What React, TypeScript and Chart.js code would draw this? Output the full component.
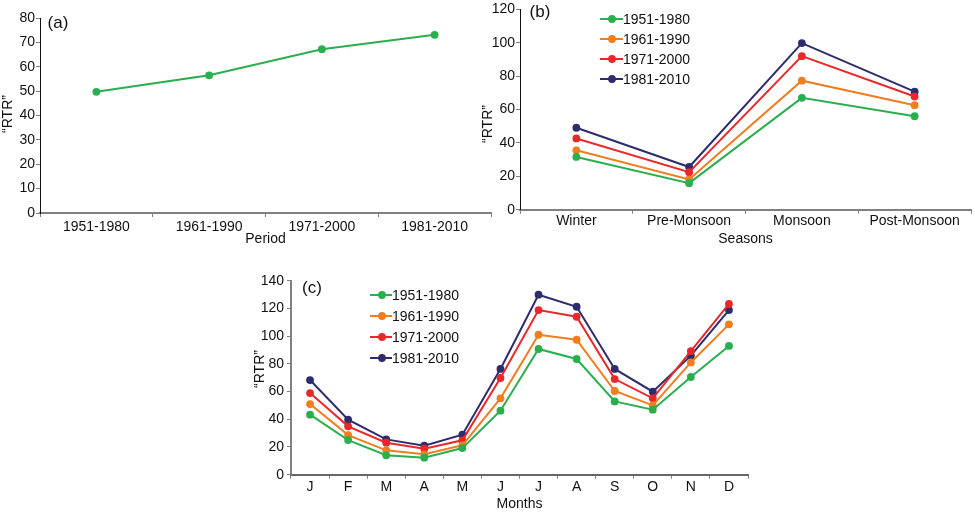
import React, { useEffect, useRef } from "react";
import { Chart, registerables } from "chart.js";

Chart.register(...registerables);
Chart.defaults.font.family = "'Liberation Sans', Arial, sans-serif";

// ---------- data ----------
const periods = ["1951-1980", "1961-1990", "1971-2000", "1981-2010"];
const rtrByPeriod = [49.7, 56.5, 67.2, 73.1];

const seasons = ["Winter", "Pre-Monsoon", "Monsoon", "Post-Monsoon"];
const season1951 = [31.6, 15.9, 67.0, 56.0];
const season1961 = [35.6, 18.1, 77.3, 62.6];
const season1971 = [42.7, 22.5, 92.0, 67.8];
const season1981 = [49.1, 25.6, 99.8, 70.7];

const months = ["J", "F", "M", "A", "M", "J", "J", "A", "S", "O", "N", "D"];
const month1951 = [43.3, 25.0, 14.0, 12.3, 19.2, 46.2, 90.7, 83.5, 52.9, 46.9, 70.5, 92.9];
const month1961 = [51.0, 28.6, 17.6, 14.7, 21.2, 55.1, 101.0, 97.4, 60.4, 50.0, 81.0, 108.5];
const month1971 = [58.9, 34.9, 23.1, 18.8, 24.8, 69.8, 118.8, 114.0, 69.0, 55.1, 89.2, 123.2];
const month1981 = [68.3, 39.7, 25.5, 20.9, 28.9, 76.3, 129.9, 121.2, 76.3, 59.9, 85.9, 118.8];

const COLORS = ["#2aae4e", "#f07d1f", "#e8282b", "#2d2c6c"];
const FONT = "'Liberation Sans', Arial, sans-serif";

type Series = { label: string; data: number[]; color: string };

type PanelProps = {
  left: number;
  top: number;
  width: number;
  height: number;
  labels: string[];
  series: Series[];
  yMax: number;
  yStep: number;
  area: { left: number; top: number; right: number; bottom: number };
  xTitle: string;
  panelLabel: string;
  labelPos: [number, number];
  yTitlePos: [number, number];
  legend?: { x: number; y: number; gap: number; lineLen: number; markerX: number; textX: number };
  xLabelPad: number;
  yLabelPad: number;
  yAxisColor: string;
  yAxisWidth: number;
  xAxisColor: string;
  xAxisWidth: number;
};

function Panel(p: PanelProps) {
  const ref = useRef<HTMLCanvasElement | null>(null);
  useEffect(() => {
    if (!ref.current) return;
    const deco = {
      id: "deco",
      afterDraw(chart: any) {
        const ctx = chart.ctx as CanvasRenderingContext2D;
        ctx.save();
        // panel label
        ctx.fillStyle = "#111";
        ctx.font = `17px ${FONT}`;
        ctx.textAlign = "center";
        ctx.textBaseline = "middle";
        ctx.fillText(p.panelLabel, p.labelPos[0], p.labelPos[1]);
        // y title
        ctx.save();
        ctx.translate(p.yTitlePos[0], p.yTitlePos[1]);
        ctx.rotate(-Math.PI / 2);
        ctx.font = `14px ${FONT}`;
        ctx.fillText("\u201CRTR\u201D", 0, 0);
        ctx.restore();
        // legend
        if (p.legend) {
          const lg = p.legend;
          chart.data.datasets.forEach((ds: any, i: number) => {
            const y = lg.y + i * lg.gap;
            ctx.strokeStyle = ds.borderColor;
            ctx.lineWidth = 2;
            ctx.beginPath();
            ctx.moveTo(lg.x, y);
            ctx.lineTo(lg.x + lg.lineLen, y);
            ctx.stroke();
            ctx.fillStyle = ds.borderColor;
            ctx.beginPath();
            ctx.arc(lg.markerX, y, 3.9, 0, Math.PI * 2);
            ctx.fill();
            ctx.fillStyle = "#111";
            ctx.font = `14px ${FONT}`;
            ctx.textAlign = "left";
            ctx.textBaseline = "middle";
            ctx.fillText(ds.label, lg.textX, y + 1);
          });
        }
        ctx.restore();
      },
    };
    const chart = new Chart(ref.current, {
      type: "line",
      data: {
        labels: p.labels,
        datasets: p.series.map((s) => ({
          label: s.label,
          data: s.data,
          borderColor: s.color,
          backgroundColor: s.color,
          pointBackgroundColor: s.color,
          pointBorderColor: s.color,
          pointRadius: 3.9,
          pointBorderWidth: 0,
          borderWidth: 2,
          tension: 0,
          fill: false,
        })),
      },
      options: {
        animation: false,
        responsive: false,
        maintainAspectRatio: false,
        devicePixelRatio: 1,
        layout: {
          padding: { left: 0, top: p.area.top, right: p.width - p.area.right, bottom: 0 },
        },
        plugins: {
          legend: { display: false },
          tooltip: { enabled: false },
        },
        scales: {
          x: {
            type: "category",
            offset: true,
            grid: {
              display: true,
              drawOnChartArea: false,
              drawTicks: true,
              tickLength: 4,
              offset: true,
              color: "#808080",
              lineWidth: 1,
            },
            border: { display: true, color: p.xAxisColor, width: p.xAxisWidth },
            ticks: {
              color: "#111",
              font: { size: 14 },
              padding: p.xLabelPad,
              maxRotation: 0,
              autoSkip: false,
            },
            title: {
              display: true,
              text: p.xTitle,
              color: "#111",
              font: { size: 14 },
              padding: { top: 0, bottom: 2.5 },
            },
            afterFit: (s: any) => {
              s.height = p.height - p.area.bottom;
            },
          },
          y: {
            min: 0,
            max: p.yMax,
            ticks: { stepSize: p.yStep, color: "#111", font: { size: 14 }, padding: p.yLabelPad },
            grid: {
              display: true,
              drawOnChartArea: false,
              drawTicks: true,
              tickLength: 4,
              color: "#808080",
            },
            border: { display: true, color: p.yAxisColor, width: p.yAxisWidth },
            afterFit: (s: any) => {
              s.width = p.area.left;
            },
          },
        },
      } as any,
      plugins: [deco],
    });
    return () => chart.destroy();
  }, []);
  return (
    <canvas
      ref={ref}
      width={p.width}
      height={p.height}
      style={{ position: "absolute", left: p.left, top: p.top, width: p.width, height: p.height }}
    />
  );
}

export default function App() {
  return (
    <div style={{ position: "absolute", left: 0, top: 0, width: 975, height: 515, background: "#fff", overflow: "hidden" }}>
      <Panel
        left={0}
        top={0}
        width={495}
        height={250}
        labels={periods}
        series={[{ label: "RTR", data: rtrByPeriod, color: COLORS[0] }]}
        yMax={80}
        yStep={10}
        area={{ left: 40, top: 18, right: 493, bottom: 213 }}
        xTitle="Period"
        panelLabel="(a)"
        labelPos={[58, 23]}
        yTitlePos={[8, 114]}
        xLabelPad={2}
        yLabelPad={1}
        yAxisColor="#111"
        yAxisWidth={1}
        xAxisColor="#808080"
        xAxisWidth={2}
      />
      <Panel
        left={478}
        top={0}
        width={497}
        height={250}
        labels={seasons}
        series={[
          { label: "1951-1980", data: season1951, color: COLORS[0] },
          { label: "1961-1990", data: season1961, color: COLORS[1] },
          { label: "1971-2000", data: season1971, color: COLORS[2] },
          { label: "1981-2010", data: season1981, color: COLORS[3] },
        ]}
        yMax={120}
        yStep={20}
        area={{ left: 42, top: 8.3, right: 495, bottom: 209.7 }}
        xTitle="Seasons"
        panelLabel="(b)"
        labelPos={[62, 12]}
        yTitlePos={[10, 124]}
        legend={{ x: 122, y: 19, gap: 20, lineLen: 23, markerX: 134, textX: 145 }}
        xLabelPad={-1}
        yLabelPad={1}
        yAxisColor="#111"
        yAxisWidth={1}
        xAxisColor="#808080"
        xAxisWidth={2}
      />
      <Panel
        left={245}
        top={265}
        width={510}
        height={250}
        labels={months}
        series={[
          { label: "1951-1980", data: month1951, color: COLORS[0] },
          { label: "1961-1990", data: month1961, color: COLORS[1] },
          { label: "1971-2000", data: month1971, color: COLORS[2] },
          { label: "1981-2010", data: month1981, color: COLORS[3] },
        ]}
        yMax={140}
        yStep={20}
        area={{ left: 46, top: 15.7, right: 503, bottom: 209.7 }}
        xTitle="Months"
        panelLabel="(c)"
        labelPos={[67, 23]}
        yTitlePos={[15, 104]}
        legend={{ x: 125, y: 30, gap: 21, lineLen: 22, markerX: 137, textX: 147 }}
        xLabelPad={0}
        yLabelPad={3}
        yAxisColor="#808080"
        yAxisWidth={2}
        xAxisColor="#666"
        xAxisWidth={2}
      />
    </div>
  );
}
